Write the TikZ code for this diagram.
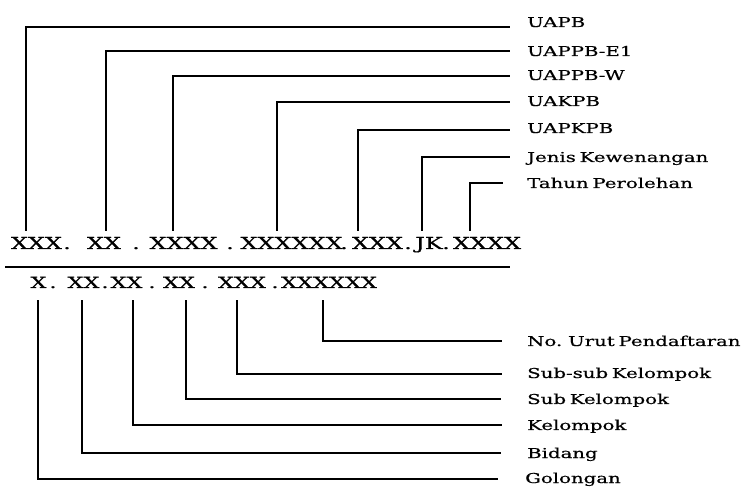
\documentclass[tikz,border=0pt]{standalone}
\usepackage{fontspec}
\setmainfont{DejaVu Serif}[FakeStretch=1.45,FakeBold=0.6,WordSpace=0.6]
\begin{document}
\begin{tikzpicture}[x=1pt,y=-1pt,
  lbl/.style={anchor=west,inner sep=0pt,text height=10pt,text depth=0pt,font=\fontsize{13.6}{16}\selectfont},
  codetop/.style={anchor=base,inner sep=0pt,text height=11.5pt,text depth=0pt,font=\fontsize{16.5}{18}\selectfont},
  codebot/.style={anchor=base,inner sep=0pt,text height=11pt,text depth=0pt,font=\fontsize{15.5}{17}\selectfont},
  conn/.style={line width=1.4pt,line cap=rect}]
\useasboundingbox (0,0) rectangle (748,489);

% labels top
\node[lbl] (uapb) at (527,22) {UAPB};
\node[lbl] (uappbe) at (527,51) {UAPPB-E1};
\node[lbl] (uappbw) at (527,75) {UAPPB-W};
\node[lbl] (uakpb) at (527,101) {UAKPB};
\node[lbl] (uapkpb) at (527,128) {UAPKPB};
\node[lbl] (jenis) at (527,157) {Jenis Kewenangan};
\node[lbl] (tahun) at (527,183) {Tahun Perolehan};

% labels bottom
\node[lbl] (nourut) at (527,341) {No. Urut Pendaftaran};
\node[lbl] (subsub) at (527,373) {Sub-sub Kelompok};
\node[lbl] (sub) at (527,399) {Sub Kelompok};
\node[lbl] (kel) at (527,425) {Kelompok};
\node[lbl] (bid) at (527,453) {Bidang};
\node[lbl] (gol) at (525,478) {Golongan};

% top code
\node[codetop] (t1) at (36.5,249) {XXX};
\node[codetop] (td1) at (67,249) {.};
\node[codetop] (t2) at (104,249) {XX};
\node[codetop] (td2) at (136,249) {.};
\node[codetop] (t3) at (183.5,249) {XXXX};
\node[codetop] (td3) at (230,249) {.};
\node[codetop] (t4) at (291.5,249) {XXXXXX};
\node[codetop] (td4) at (344,249) {.};
\node[codetop] (t5) at (377.5,249) {XXX};
\node[codetop] (td5) at (408,249) {.};
\node[codetop] (t6) at (429,249) {JK};
\node[codetop] (td6) at (446,249) {.};
\node[codetop] (t7) at (487,249) {XXXX};

% separator
\coordinate (sepL) at (5,267);
\coordinate (sepR) at (510,267);
\draw[conn,line cap=butt] (sepL) -- (sepR);

% bottom code
\node[codebot] (b1) at (38.5,288) {X};
\node[codebot] (bd1) at (53,288) {.};
\node[codebot] (b2) at (83.5,288) {XX};
\node[codebot] (bd2) at (105,288) {.};
\node[codebot] (b3) at (126.5,288) {XX};
\node[codebot] (bd3) at (152,288) {.};
\node[codebot] (b4) at (179,288) {XX};
\node[codebot] (bd4) at (205,288) {.};
\node[codebot] (b5) at (242,288) {XXX};
\node[codebot] (bd5) at (275,288) {.};
\node[codebot] (b6) at (329,288) {XXXXXX};

% top connectors
\draw[conn,shorten <=7pt] ([xshift=-10.5pt]t1.north) |- ([xshift=-18pt,yshift=-5pt]uapb.west);
\draw[conn,shorten <=7pt] ([xshift=2pt]t2.north) |- ([xshift=-18pt]uappbe.west);
\draw[conn,shorten <=7pt] ([xshift=-10.5pt]t3.north) |- ([xshift=-18pt,yshift=-1pt]uappbw.west);
\draw[conn,shorten <=7pt] ([xshift=-14.5pt]t4.north) |- ([xshift=-18pt,yshift=-1pt]uakpb.west);
\draw[conn,shorten <=7pt] ([xshift=-19.5pt]t5.north) |- ([xshift=-18pt,yshift=-2pt]uapkpb.west);
\draw[conn,shorten <=7pt] ([xshift=-7pt]t6.north) |- ([xshift=-18pt]jenis.west);
\draw[conn,shorten <=7pt] ([xshift=-17pt]t7.north) |- ([xshift=-25pt]tahun.west);

% bottom connectors
\draw[conn,shorten <=13pt] ([xshift=-6pt]b6.south) |- ([xshift=-26pt]nourut.west);
\draw[conn,shorten <=13pt] ([xshift=-5pt]b5.south) |- ([xshift=-26pt,yshift=-1pt]subsub.west);
\draw[conn,shorten <=13pt] ([xshift=7pt]b4.south) |- ([xshift=-27pt]sub.west);
\draw[conn,shorten <=13pt] ([xshift=6.5pt]b3.south) |- ([xshift=-26pt]kel.west);
\draw[conn,shorten <=13pt] ([xshift=-1.5pt]b2.south) |- ([xshift=-27pt]bid.west);
\draw[conn,shorten <=13pt] ([xshift=-0.5pt]b1.south) |- ([xshift=-28pt,yshift=-1pt]gol.west);
\end{tikzpicture}
\end{document}
